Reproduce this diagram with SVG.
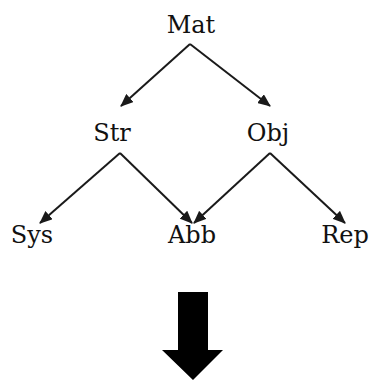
<svg xmlns="http://www.w3.org/2000/svg" width="371" height="380" viewBox="0 0 371 380">
<style>
text{font-family:"DejaVu Serif","Liberation Serif",serif;font-size:24px;fill:#111;text-anchor:middle}
.e{stroke:#1a1a1a;stroke-width:2;fill:none;marker-end:url(#ah)}
</style>
<defs>
<marker id="ah" viewBox="0 0 13 11" refX="12" refY="5.5" markerWidth="13" markerHeight="11" markerUnits="userSpaceOnUse" orient="auto">
<path d="M0,0 L13,5.5 L0,11 Z" fill="#1a1a1a"/>
</marker>
</defs>
<rect width="371" height="380" fill="#fff"/>
<g id="connectors">
<path class="e" d="M190,44 L121,106"/>
<path class="e" d="M190,44 L270,106"/>
<path class="e" d="M120,153 L40,223"/>
<path class="e" d="M120,153 L192,223"/>
<path class="e" d="M270,153 L194,223"/>
<path class="e" d="M270,153 L345,223"/>
</g>
<g id="Mat"><text x="191" y="33">Mat</text></g>
<g id="Str"><text x="112" y="141">Str</text></g>
<g id="Obj"><text x="268" y="141">Obj</text></g>
<g id="Sys"><text x="32" y="243">Sys</text></g>
<g id="Abb"><text x="192" y="243">Abb</text></g>
<g id="Rep"><text x="345" y="243">Rep</text></g>
<g id="bigArrow"><path d="M178,292 H208 V350 H223 L193,380 L162,350 H178 Z" fill="#000"/></g>
</svg>
